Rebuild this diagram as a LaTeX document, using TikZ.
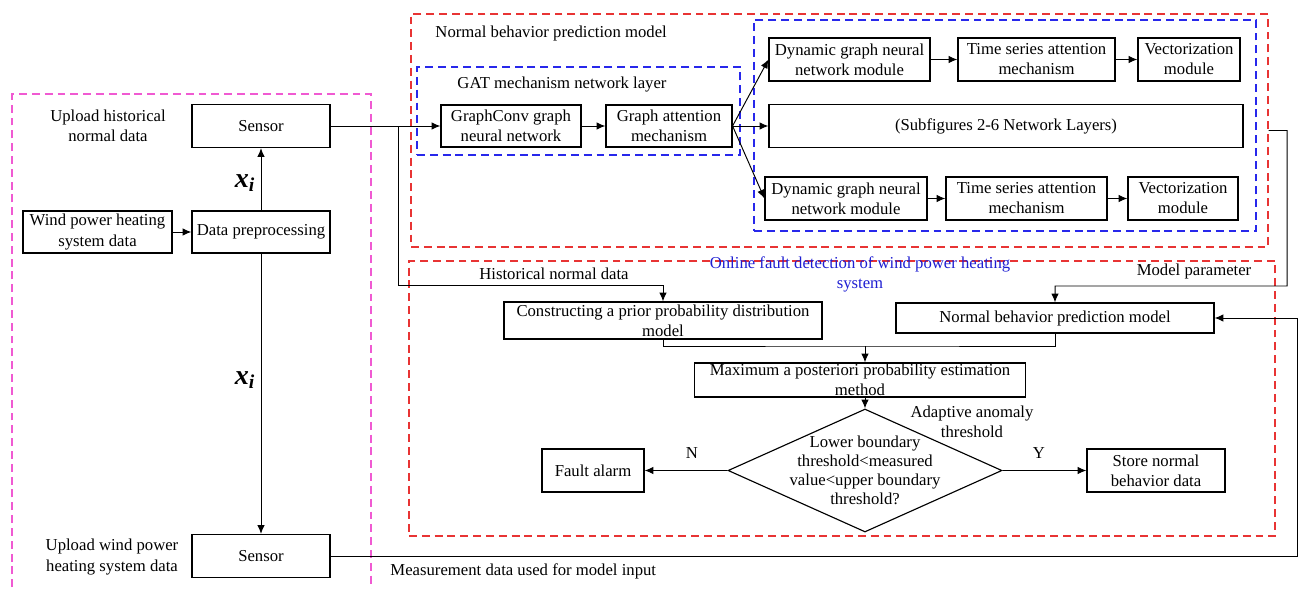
\documentclass[tikz,border=0pt]{standalone}
\usepackage{fontspec}
\setmainfont{Liberation Serif}
\usetikzlibrary{shapes.geometric,fit,arrows.meta}
\newcommand{\fsz}{\fontsize{9.5}{11.4}\selectfont}
\definecolor{frred}{RGB}{232,52,52}
\definecolor{frblue}{RGB}{40,40,235}
\definecolor{frpink}{RGB}{240,90,210}
\definecolor{txtblue}{RGB}{30,30,210}

\begin{document}
\begin{tikzpicture}[x=0.02cm,y=-0.02cm,line width=0.55pt,>={Latex[length=5pt,width=4.2pt]},
  box/.style={draw,line width=0.65pt,align=center,inner sep=0pt,font=\fsz,minimum height=0.86cm},
  lbl/.style={align=center,font=\fsz,inner sep=0pt},
  xlbl/.style={font=\fontsize{16}{16}\selectfont\bfseries\itshape,inner sep=0pt},
  dashframe/.style={draw,dash pattern=on 4.5pt off 2.8pt,line width=0.8pt,inner sep=0pt},
  decision/.style={draw,diamond,line width=0.65pt,minimum width=5.48cm,minimum height=2.46cm,inner sep=0pt}]
  \useasboundingbox (0,0) rectangle (1300,588);

  % dashed frames
  \draw[dashframe,draw=frpink] (12,600) -- (12,94) -- (371,94) -- (371,600);
  \node[dashframe,draw=frred,fit={(411,14) (1268,247)}] (predfr) {};
  \node[dashframe,draw=frblue,fit={(417,67) (740,155)}] (gatfr) {};
  \node[dashframe,draw=frblue,fit={(754,20) (1256,231)}] (dynfr) {};
  \node[dashframe,draw=frred,fit={(409,261) (1275,536)}] (onlfr) {};

  % left column
  \node[lbl] (uphist) at (108,126) {Upload historical\\normal data};
  \node[box,minimum width=2.76cm] (sensA) at (261,126) {Sensor};
  \node[box,minimum width=2.76cm,minimum height=0.84cm] (prep) at (261,232) {Data preprocessing};
  \node[box,minimum width=2.98cm,minimum height=0.84cm] (wind) at (97.5,232) {Wind power heating\\system data};
  \node[box,minimum width=2.76cm] (sensB) at (261,556) {Sensor};
  \node[lbl] (upwind) at (112,557) {Upload wind power\\heating system data};
  \node[xlbl] (xa) at (245,183) {x\textsubscript{i}};
  \node[xlbl] (xb) at (245,380) {x\textsubscript{i}};

  \draw[->] (wind) -- (prep);
  \draw[->] (prep) -- (sensA);
  \draw[->] (prep) -- (sensB);

  % normal behavior prediction model
  \node[lbl,anchor=west] (predt) at (435,33) {Normal behavior prediction model};
  \node[lbl] (gatt) at (562,85) {GAT mechanism network layer};
  \node[box,minimum width=2.8cm,minimum height=0.84cm] (gconv) at (511,126) {GraphConv graph\\neural network};
  \node[box,minimum width=2.52cm,minimum height=0.84cm] (gatm) at (669,126) {Graph attention\\mechanism};

  \node[box,minimum width=3.22cm] (dgA) at (849.5,59.5) {Dynamic graph neural\\network module};
  \node[box,minimum width=3.14cm] (tsA) at (1036.5,59.5) {Time series attention\\mechanism};
  \node[box,minimum width=2.04cm] (vecA) at (1189,59.5) {Vectorization\\module};
  \node[box,minimum width=9.48cm] (sub) at (1006,126) {(Subfigures 2-6 Network Layers)};
  \node[box,minimum width=3.24cm] (dgB) at (846,198.5) {Dynamic graph neural\\network module};
  \node[box,minimum width=3.22cm] (tsB) at (1026.5,198.5) {Time series attention\\mechanism};
  \node[box,minimum width=2.2cm] (vecB) at (1183,198.5) {Vectorization\\module};

  \draw[->] (sensA) -- (gconv);
  \draw[->] (gconv) -- (gatm);
  \draw[->] (gatm.east) -- (dgA.west);
  \draw[->] (gatm.east) -- (sub.west);
  \draw[->] (gatm.east) -- (dgB.west);
  \draw[->] (dgA) -- (tsA);
  \draw[->] (tsA) -- (vecA);
  \draw[->] (dgB) -- (tsB);
  \draw[->] (tsB) -- (vecB);

  % online fault detection
  \node[lbl,text=txtblue] (onlt) at (860,274) {Online fault detection of wind power heating\\system};
  \node[lbl] (histt) at (554,274) {Historical normal data};
  \node[lbl] (mpt) at (1194,271) {Model parameter};
  \node[box,minimum width=6.36cm,minimum height=0.74cm] (cppd) at (663,320.5) {Constructing a prior probability distribution\\model};
  \node[box,minimum width=6.36cm,minimum height=0.6cm] (nbpm) at (1055,318) {Normal behavior prediction model};
  \node[box,minimum width=6.62cm,minimum height=0.68cm] (map) at (860,380) {Maximum a posteriori probability estimation\\method};
  \node[decision] (dia) at (865,470.5) {};
  \node[lbl,font=\fontsize{9.5}{10.8}\selectfont] (diat) at (dia.center) {Lower boundary\\threshold<measured\\value<upper boundary\\threshold?};
  \node[lbl] (adapt) at (972,422) {Adaptive anomaly\\threshold};
  \node[box,minimum width=2.04cm] (fault) at (593,470.5) {Fault alarm};
  \node[box,minimum width=2.76cm] (store) at (1156,470.5) {Store normal\\behavior data};
  \node[lbl] (lblN) at (692,453) {N};
  \node[lbl] (lblY) at (1039,453) {Y};
  \node[lbl,anchor=west] (meas) at (390,571) {Measurement data used for model input};

  \draw[->] (398,126) -- (398,285) -| (cppd.north);
  \draw[->] (predfr.east) -- (1287,130.5) -- (1287,286) -| (nbpm.north);
  \draw (cppd.south) |- (dia.north |- 0,346) -| (nbpm.south);
  \draw[->] (dia.north |- 0,346) -- (map.north -| dia.north);
  \draw[->] (map.south -| dia.north) -- (dia.north);
  \draw[->] (dia.west) -- (fault);
  \draw[->] (dia.east) -- (store);
  \draw[->] (sensB.east) -| (1297,318) -- (nbpm.east);
\end{tikzpicture}
\end{document}
